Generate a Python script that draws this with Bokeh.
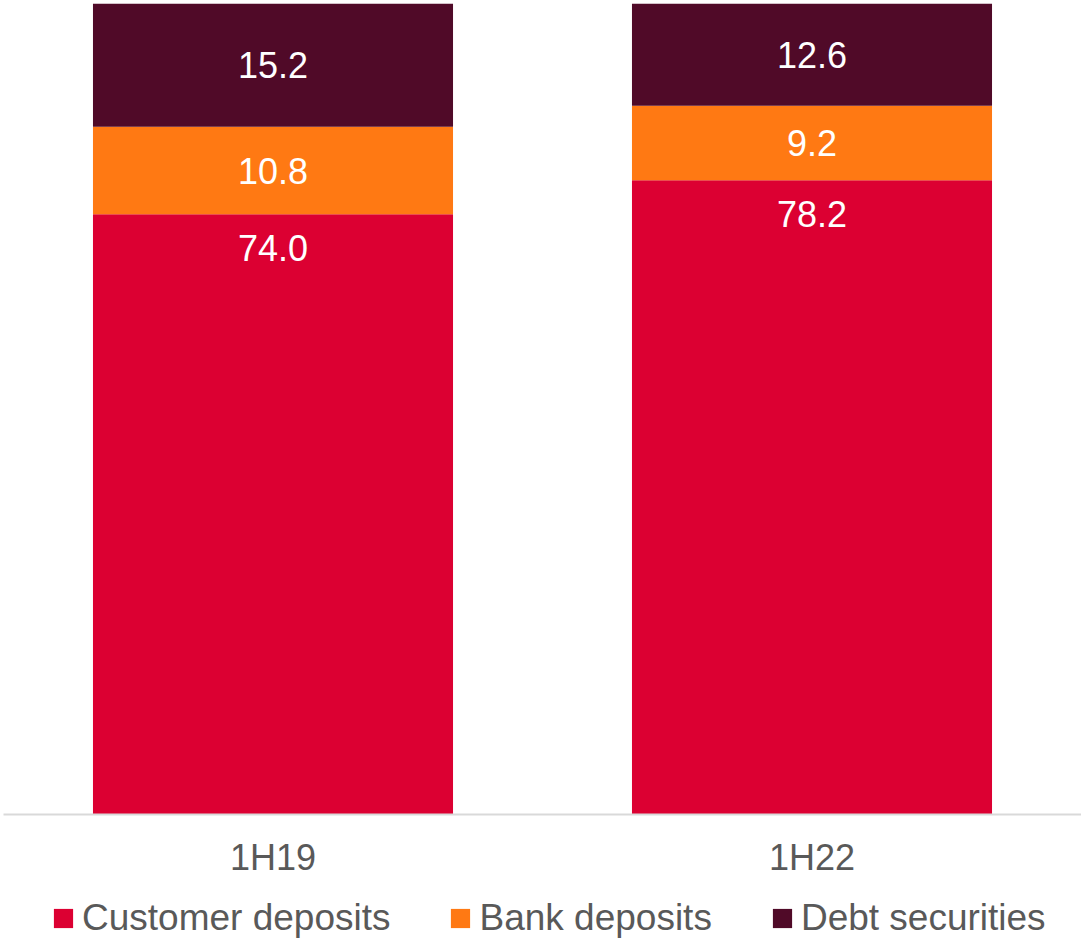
from bokeh.plotting import figure
from bokeh.models import ColumnDataSource, Legend, LegendItem, Range1d, FactorRange
from bokeh.layouts import column
from bokeh.core.properties import value
from bokeh.embed import file_html
from bokeh.resources import INLINE

periods = ["1H19", "1H22"]
series = ["Customer deposits", "Bank deposits", "Debt securities"]
customer = [74.0, 78.2]
bank = [10.8, 9.2]
debt = [15.2, 12.6]
colors = ["#DC0032", "#FF7913", "#500A28"]

FONT = "Liberation Sans"

src = ColumnDataSource(dict(period=periods, customer=customer, bank=bank, debt=debt))

p = figure(x_range=FactorRange(*periods, range_padding=0), y_range=Range1d(0, 100),
           width=1081, height=888,
           output_backend="svg", toolbar_location=None,
           min_border_left=3, min_border_right=0, min_border_top=3, min_border_bottom=74,
           outline_line_color=None, background_fill_color="white", border_fill_color="white")

r = p.vbar_stack(["customer", "bank", "debt"], x="period", width=0.668, source=src,
                 color=colors, line_color=None)

# labels
lab_x, lab_y, lab_t, lab_off = [], [], [], []
for i, per in enumerate(periods):
    c, b, d = customer[i], bank[i], debt[i]
    lab_x += [per, per, per]
    lab_y += [c, c + b / 2, c + b + d / 2]
    lab_off += [34, 0, 0]
    lab_t += [f"{c:.1f}", f"{b:.1f}", f"{d:.1f}"]
lsrc = ColumnDataSource(dict(x=lab_x, y=lab_y, t=lab_t, off=lab_off))
p.text(x="x", y="y", text="t", y_offset="off", source=lsrc, text_color="white",
       text_font=value(FONT), text_font_size="36px", text_align="center",
       text_baseline="middle")

p.yaxis.visible = False
p.xgrid.visible = False
p.ygrid.visible = False
ax = p.xaxis[0]
ax.axis_line_color = "#D9D9D9"
ax.axis_line_width = 2
ax.major_tick_line_color = None
ax.minor_tick_line_color = None
ax.major_tick_out = 0
ax.major_tick_in = 0
ax.major_label_text_font = FONT
ax.major_label_text_font_size = "36px"
ax.major_label_text_color = "#595959"
ax.major_label_standoff = 22

# legend strip (same stacked bars, kept out of the visible y range; only the legend shows)
lf = figure(width=1081, height=50, x_range=FactorRange(*periods, range_padding=0),
            y_range=Range1d(1000, 1001),
            output_backend="svg", toolbar_location=None,
            min_border=0, min_border_left=0, min_border_right=0, min_border_top=0,
            min_border_bottom=0, outline_line_color=None,
            background_fill_color="white", border_fill_color="white")
lf.axis.visible = False
lf.grid.visible = False
leg_r = lf.vbar_stack(["customer", "bank", "debt"], x="period", width=0.668, source=src,
                      color=colors, line_color=None)

legend = Legend(items=[LegendItem(label=s, renderers=[leg_r[k]]) for k, s in enumerate(series)],
                orientation="horizontal", location=(48, -1),
                label_text_font=FONT, label_text_font_size="37px", label_text_color="#595959",
                glyph_width=24, glyph_height=24, label_standoff=7, spacing=58,
                padding=0, margin=0, border_line_color=None, background_fill_alpha=0)
lf.add_layout(legend, "center")

layout = column(p, lf, spacing=0)
open("out.html", "w").write(file_html(layout, INLINE))
